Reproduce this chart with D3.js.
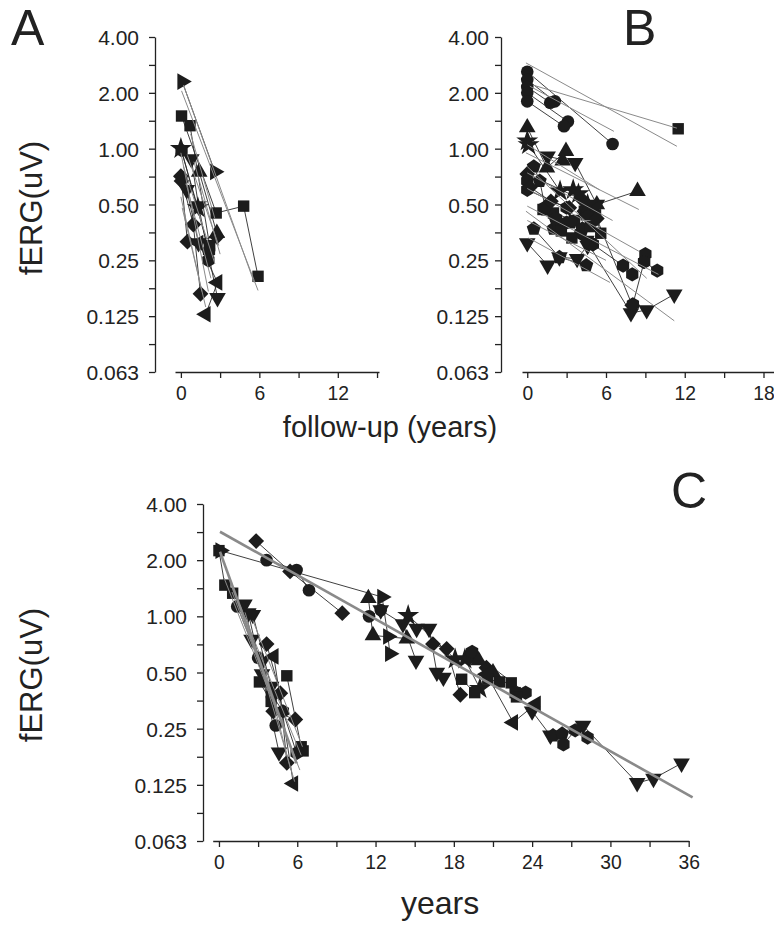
<!DOCTYPE html>
<meta charset="utf-8" />
<title>fERG follow-up</title>
<style>
  body { margin: 0; background: #fff; }
  svg { display: block; font-family: "Liberation Sans", Arial, sans-serif; }
  .axis path, .axis line { stroke: #222; stroke-width: 1.3px; }
  .axis text { font-size: 21px; fill: #222; font-family: "Liberation Sans", Arial, sans-serif; }
  .conn { fill: none; stroke: #2a2a2a; stroke-width: 0.9px; }
  .fit { fill: none; stroke: #8a8a8a; stroke-width: 1px; }
  .fit-main { fill: none; stroke: #8a8a8a; stroke-width: 2.6px; }
  .mark { fill: #1c1c1c; }
  .title { fill: #222; }
</style>
<body>
<svg width="774" height="933"></svg>
<script src="https://d3js.org/d3.v7.min.js"></script>
<script>
// y axis (log2), shared by the three panels
const yTicks = [4, 2, 1, 0.5, 0.25, 0.125, 0.0625];
const yTickLabels = ["4.00", "2.00", "1.00", "0.50", "0.25", "0.125", "0.063"];
const xTicksA = [0, 3, 6, 9, 12, 15];
const xTicksB = [0, 3, 6, 9, 12, 15, 18];
const xTicksC = [0, 3, 6, 9, 12, 15, 18, 21, 24, 27, 30, 33, 36];

// each patient: marker shape + [years, fERG uV] visits
const patientsA = [
  { shape: "triR", pts: [[0.1, 2.3], [2.6, 0.75]] },
  { shape: "square", pts: [[0.05, 1.5], [2.7, 0.45], [4.8, 0.49], [5.9, 0.205]] },
  { shape: "square", pts: [[0.7, 1.33], [2.2, 0.3]] },
  { shape: "star", pts: [[0, 1.0], [1.3, 0.48]] },
  { shape: "hexagon", pts: [[0.05, 0.98], [2.15, 0.28], [2.1, 0.25]] },
  { shape: "triD", pts: [[0.8, 0.88], [1.35, 0.49], [2.8, 0.157]] },
  { shape: "triU", pts: [[1.4, 0.75], [2.75, 0.35]] },
  { shape: "diamond", pts: [[0, 0.71], [0.95, 0.39], [1.5, 0.165]] },
  { shape: "diamond", pts: [[0.05, 0.67], [0.5, 0.315], [2.75, 0.335]] },
  { shape: "triD", pts: [[0.45, 0.6], [1.35, 0.31]] },
  { shape: "triL", pts: [[1.35, 0.31], [2.8, 0.19], [1.9, 0.128]] }
];
// per-patient regression lines [x0, v0, x1, v1]
const fitsA = [
  [0.05, 2.05, 5.9, 0.172], [0.2, 2.2, 5.6, 0.19], [0.75, 1.2, 2.6, 0.42],
  [0, 0.95, 2.1, 0.17], [0.2, 0.8, 2.6, 0.24], [0.4, 0.65, 2.3, 0.2],
  [0, 0.55, 1.6, 0.17], [0.5, 0.92, 2.9, 0.3], [0.1, 0.48, 1.9, 0.14],
  [1.0, 0.85, 3.0, 0.27]
];

const patientsB = [
  { shape: "circle", pts: [[0, 2.6], [6.5, 1.06]] },
  { shape: "circle", pts: [[0, 2.35], [2.1, 1.8]] },
  { shape: "circle", pts: [[0, 2.15], [1.75, 1.77]] },
  { shape: "circle", pts: [[0, 2.0], [3.1, 1.4]] },
  { shape: "circle", pts: [[0, 1.8], [2.8, 1.32]] },
  { shape: "square", pts: [[11.5, 1.28]] },
  { shape: "triU", pts: [[0, 1.3], [1.5, 0.79], [2.95, 0.97], [2.7, 0.86]] },
  { shape: "star", pts: [[0, 1.1], [0.1, 1.05], [2.5, 0.59], [3.5, 0.6]] },
  { shape: "triD", pts: [[1.55, 0.91], [3.65, 0.84], [5.3, 0.5]] },
  { shape: "triU", pts: [[5.3, 0.5], [8.4, 0.59]] },
  { shape: "pentagon", pts: [[0.5, 0.8], [0.95, 0.67], [1.4, 0.47], [2.0, 0.37]] },
  { shape: "diamond", pts: [[0, 0.73], [4.2, 0.53], [4.35, 0.46]] },
  { shape: "hexagon", pts: [[0, 0.67], [0, 0.6], [3.0, 0.48], [4.05, 0.35], [5.0, 0.305]] },
  { shape: "square", pts: [[4.35, 0.46], [5.2, 0.44], [5.6, 0.35]] },
  { shape: "square", pts: [[1.2, 0.47], [2.0, 0.45], [3.6, 0.41], [4.5, 0.44]] },
  { shape: "pentagon", pts: [[0.5, 0.37], [2.45, 0.26], [4.5, 0.235]] },
  { shape: "pentagon", pts: [[2.3, 0.4], [3.3, 0.4], [4.2, 0.37]] },
  { shape: "hexagon", pts: [[1.3, 0.48], [2.2, 0.42], [3.0, 0.4]] },
  { shape: "square", pts: [[2.6, 0.36], [3.4, 0.33], [4.8, 0.38]] },
  { shape: "star", pts: [[3.9, 0.57], [4.6, 0.5]] },
  { shape: "diamond", pts: [[0.2, 0.62], [1.8, 0.52], [3.2, 0.48]] },
  { shape: "triD", pts: [[0, 0.31], [1.55, 0.235]] },
  { shape: "triD", pts: [[2.45, 0.26], [3.8, 0.255], [4.6, 0.3]] },
  { shape: "hexagon", pts: [[5.0, 0.305], [7.3, 0.234], [8.0, 0.21]] },
  { shape: "hexagon", pts: [[9.0, 0.27], [8.9, 0.245], [9.9, 0.22]] },
  { shape: "diamond", pts: [[5.3, 0.42], [8.0, 0.143]] },
  { shape: "triD", pts: [[4.5, 0.32], [7.9, 0.13], [9.1, 0.135], [11.2, 0.164]] },
  { shape: "hexagon", pts: [[8.05, 0.145], [8.9, 0.245]] }
];
const fitsB = [
  [-0.1, 2.9, 11.4, 1.03], [0.45, 2.2, 11.4, 1.29], [0.2, 2.17, 6.6, 1.24],
  [-0.1, 0.95, 8.5, 0.47], [0, 1.05, 5.5, 0.6], [0, 0.8, 9.1, 0.2],
  [0, 0.74, 6.5, 0.41], [0, 0.61, 8.5, 0.28], [0, 0.49, 10, 0.21],
  [-0.1, 0.46, 11.2, 0.118], [0, 0.41, 6.0, 0.25], [0.1, 0.33, 6.3, 0.19]
];

const patientsC = [
  { shape: "square", pts: [[0, 2.25], [0.45, 1.47], [1.05, 1.33]] },
  { shape: "triR", pts: [[0.1, 2.25], [12.5, 1.27], [12.95, 0.78], [13.1, 0.63]] },
  { shape: "circle", pts: [[1.4, 1.13], [3.0, 0.6], [4.35, 0.26]] },
  { shape: "triD", pts: [[1.95, 1.16], [2.5, 0.75], [3.3, 0.57]] },
  { shape: "triD", pts: [[2.25, 1.04], [3.3, 0.49], [4.6, 0.187]] },
  { shape: "triD", pts: [[2.6, 1.02], [4.0, 0.42]] },
  { shape: "diamond", pts: [[3.65, 0.71], [4.7, 0.387], [5.2, 0.164]] },
  { shape: "triL", pts: [[4.2, 0.61], [5.7, 0.127]] },
  { shape: "square", pts: [[3.1, 0.445], [4.0, 0.35]] },
  { shape: "square", pts: [[5.2, 0.48], [6.3, 0.2], [6.45, 0.19]] },
  { shape: "diamond", pts: [[4.16, 0.31], [5.85, 0.28]] },
  { shape: "hexagon", pts: [[4.05, 0.38], [4.9, 0.31], [5.95, 0.185]] },
  { shape: "diamond", pts: [[2.85, 2.53], [5.45, 1.74], [9.45, 1.04]] },
  { shape: "circle", pts: [[3.65, 2.0], [5.95, 1.77], [6.9, 1.38]] },
  { shape: "triU", pts: [[11.45, 1.25], [11.8, 0.79], [14.4, 0.76]] },
  { shape: "circle", pts: [[11.5, 1.0], [12.4, 1.08]] },
  { shape: "triD", pts: [[12.4, 1.08], [14.1, 0.91], [15.1, 0.58]] },
  { shape: "triD", pts: [[15.15, 0.86], [16.1, 0.86], [16.7, 0.5], [17.2, 0.47]] },
  { shape: "star", pts: [[14.5, 1.01], [18.1, 0.59], [18.85, 0.59], [20.0, 0.41]] },
  { shape: "diamond", pts: [[16.4, 0.71], [17.45, 0.67], [18.5, 0.38]] },
  { shape: "diamond", pts: [[19.2, 0.6], [20.5, 0.53]] },
  { shape: "hexagon", pts: [[19.4, 0.645], [23.5, 0.39]] },
  { shape: "triU", pts: [[19.9, 0.58], [21.0, 0.5]] },
  { shape: "square", pts: [[18.6, 0.46], [19.6, 0.39], [20.6, 0.46], [21.5, 0.445], [22.4, 0.44], [22.7, 0.39], [22.8, 0.37]] },
  { shape: "triL", pts: [[20.5, 0.49], [22.55, 0.27], [24.3, 0.34]] },
  { shape: "triD", pts: [[24.0, 0.31], [25.4, 0.23], [27.9, 0.26], [32.05, 0.128], [33.3, 0.135], [35.45, 0.163]] },
  { shape: "pentagon", pts: [[25.6, 0.23], [26.3, 0.235]] },
  { shape: "hexagon", pts: [[26.4, 0.206], [27.3, 0.245], [28.25, 0.224]] }
];
const fitsC = [
  [0.4, 1.6, 6.2, 0.15], [1.0, 1.35, 5.9, 0.17], [1.6, 1.15, 6.3, 0.18],
  [2.0, 1.05, 5.8, 0.13], [2.6, 0.95, 6.4, 0.2], [3.2, 0.65, 5.5, 0.15]
];
// group regression lines (thick grey)
const mainFitsC = [[0.08, 2.22, 5.95, 0.163], [0.08, 2.84, 36.3, 0.107]];

const svg = d3.select("svg");

// regular polygon symbols, angle 0 = pointing right
function poly(n, startDeg) {
  return {
    draw(ctx, size) {
      const r = Math.sqrt(size / (n / 2 * Math.sin(2 * Math.PI / n)));
      for (let i = 0; i < n; i++) {
        const a = (startDeg + i * 360 / n) * Math.PI / 180;
        if (i === 0) ctx.moveTo(r * Math.cos(a), r * Math.sin(a));
        else ctx.lineTo(r * Math.cos(a), r * Math.sin(a));
      }
      ctx.closePath();
    }
  };
}
const shapes = {
  square: [poly(4, 45), 130],
  diamond: [poly(4, -90), 125],
  circle: [d3.symbolCircle, 125],
  triU: [poly(3, -90), 120],
  triD: [poly(3, 90), 120],
  triL: [poly(3, 180), 120],
  triR: [poly(3, 0), 120],
  pentagon: [poly(5, -90), 130],
  hexagon: [poly(6, -90), 130],
  star: [d3.symbolStar, 150]
};

function drawPanel(p) {
  const g = svg.append("g");
  const y = d3.scaleLog().base(2).domain([0.0625, 4]).range([p.yBottom, p.yTop]);
  const x = d3.scaleLinear().domain(p.xDomain).range(p.xRange);

  const minor = yTicks.slice(0, -1).map(v => v / Math.SQRT2);
  const yAxis = g.append("g").attr("class", "axis")
    .attr("transform", `translate(${p.yAxisX},0)`)
    .call(d3.axisLeft(y).tickValues(yTicks.concat(minor)).tickSize(6).tickSizeOuter(0)
      .tickFormat(v => { const i = yTicks.indexOf(v); return i < 0 ? "" : yTickLabels[i]; }));
  yAxis.selectAll(".tick text").attr("x", -p.labelGap).attr("dy", "0.36em");

  const xAxis = g.append("g").attr("class", "axis")
    .attr("transform", `translate(0,${p.yBottom})`)
    .call(d3.axisBottom(x).tickValues(p.xTicks).tickSize(6).tickSizeOuter(0)
      .tickFormat(v => v % 6 === 0 ? v : ""));
  xAxis.selectAll(".tick text").attr("y", 0).attr("dy", "0.71em")
    .attr("transform", "translate(0,13) scale(0.92,1)");

  const line = d3.line().x(d => x(d[0])).y(d => y(d[1]));
  g.append("g").selectAll("path").data(p.patients.filter(d => d.pts.length > 1)).join("path")
    .attr("class", "conn").attr("d", d => line(d.pts));

  g.append("g").selectAll("g").data(p.patients).join("g")
    .selectAll("path").data(d => d.pts.map(pt => ({ pt, shape: d.shape }))).join("path")
    .attr("class", "mark")
    .attr("transform", d => `translate(${x(d.pt[0])},${y(d.pt[1])})`)
    .attr("d", d => d3.symbol(shapes[d.shape][0], shapes[d.shape][1])());

  g.append("g").selectAll("line").data(p.fits).join("line")
    .attr("class", "fit")
    .attr("x1", d => x(d[0])).attr("y1", d => y(d[1]))
    .attr("x2", d => x(d[2])).attr("y2", d => y(d[3]));

  if (p.mainFits) {
    g.append("g").selectAll("line").data(p.mainFits).join("line")
      .attr("class", "fit-main")
      .attr("x1", d => x(d[0])).attr("y1", d => y(d[1]))
      .attr("x2", d => x(d[2])).attr("y2", d => y(d[3]));
  }
}

drawPanel({ yAxisX: 155, yTop: 37, yBottom: 372, xDomain: [-0.45, 15.15], xRange: [175, 379],
  xTicks: xTicksA, patients: patientsA, fits: fitsA, labelGap: 16 });
drawPanel({ yAxisX: 501, yTop: 37, yBottom: 372, xDomain: [-0.4, 18.8], xRange: [522, 774],
  xTicks: xTicksB, patients: patientsB, fits: fitsB, labelGap: 12 });
drawPanel({ yAxisX: 203, yTop: 504, yBottom: 841, xDomain: [-0.48, 36], xRange: [212.7, 688.7],
  xTicks: xTicksC, patients: patientsC, fits: fitsC, mainFits: mainFitsC, labelGap: 16 });

// titles and panel letters
const txt = (s, x, y, size, opts = {}) => svg.append("text").attr("class", "title")
  .attr("x", x).attr("y", y).attr("font-size", size)
  .attr("text-anchor", opts.anchor || "start")
  .attr("transform", opts.rotate ? `rotate(-90,${x},${y})` : null)
  .text(s);

txt("A", 11, 45, 50);
txt("B", 623, 45, 50);
txt("C", 671, 508, 50);
txt("fERG(uV)", 42, 208, 31, { anchor: "middle", rotate: true });
txt("fERG(uV)", 42, 675, 31, { anchor: "middle", rotate: true });
txt("follow-up (years)", 390, 437, 29, { anchor: "middle" });
txt("years", 440, 914, 32, { anchor: "middle" });
</script>
</body>
